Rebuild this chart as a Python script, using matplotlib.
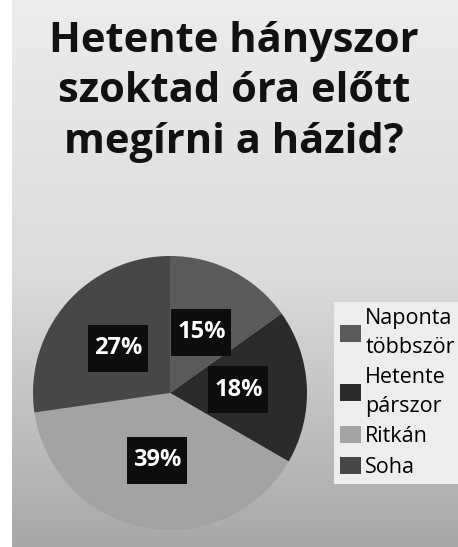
import numpy as np
import matplotlib
matplotlib.use("Agg")
import matplotlib.pyplot as plt
from matplotlib.patches import Rectangle

# data
title = "Hetente hányszor\nszoktad óra előtt\nmegírni a házid?"
categories = ["Naponta\ntöbbször", "Hetente\npárszor", "Ritkán", "Soha"]
shares = [15, 18, 39, 27]
colors = ["#5a5a5a", "#2b2b2b", "#a3a3a3", "#474747"]

plt.rcParams['font.family'] = ['Open Sans', 'DejaVu Sans']

W, H = 458, 547
fig = plt.figure(figsize=(W / 100, H / 100), dpi=100)
fig.patch.set_facecolor("white")

# gradient background, white strip at left
bg = fig.add_axes([12 / W, 0, 1 - 12 / W, 1])
grad = np.linspace(0, 1, 256).reshape(-1, 1)
bg.imshow(grad, aspect="auto", cmap=matplotlib.colors.LinearSegmentedColormap.from_list(
    "g", ["#ececec", "#dcdcdc", "#a8a8a8"]), extent=[0, 1, 0, 1], origin="upper")
bg.axis("off")

fig.text(234 / W, 1 - 92 / H, title, ha="center", va="center", fontsize=30,
         fontweight="bold", color="#111111", linespacing=1.3)

# pie
cx, cy, r = 170, 393, 137
ax = fig.add_axes([(cx - r) / W, (H - cy - r) / H, 2 * r / W, 2 * r / H])
wedges, texts, autotexts = ax.pie(
    shares, colors=colors, startangle=90, counterclock=False,
    autopct=lambda p: "%d%%" % round(p * sum(shares) / 100), pctdistance=0.5,
    wedgeprops=dict(linewidth=0), radius=1)
bw, bh = 60 / r, 47 / r  # label box size, data units (radius = 1)
for t in autotexts:
    x, y = t.get_position()
    ax.add_patch(Rectangle((x - bw / 2, y - bh / 2), bw, bh, facecolor="#0d0d0d",
                           edgecolor="none", zorder=3))
    t.set_zorder(4)
    t.set_color("white")
    t.set_fontsize(17)
    t.set_fontweight("bold")
ax.set_xlim(-1, 1)
ax.set_ylim(-1, 1)
ax.set_aspect("auto")

leg = fig.legend(wedges, categories, loc="upper left",
                 bbox_to_anchor=(334 / W, 1 - 302 / H), fontsize=15.5,
                 frameon=True, fancybox=False, handlelength=0.95, handleheight=0.85,
                 handletextpad=0.2, labelspacing=0.45, borderpad=0.3,
                 borderaxespad=0)
for t in leg.get_texts():
    t.set_linespacing(1.45)
leg.get_frame().set_facecolor("#ededed")
leg.get_frame().set_edgecolor("none")
leg.get_frame().set_alpha(1)

plt.savefig("out.png", dpi=100)
